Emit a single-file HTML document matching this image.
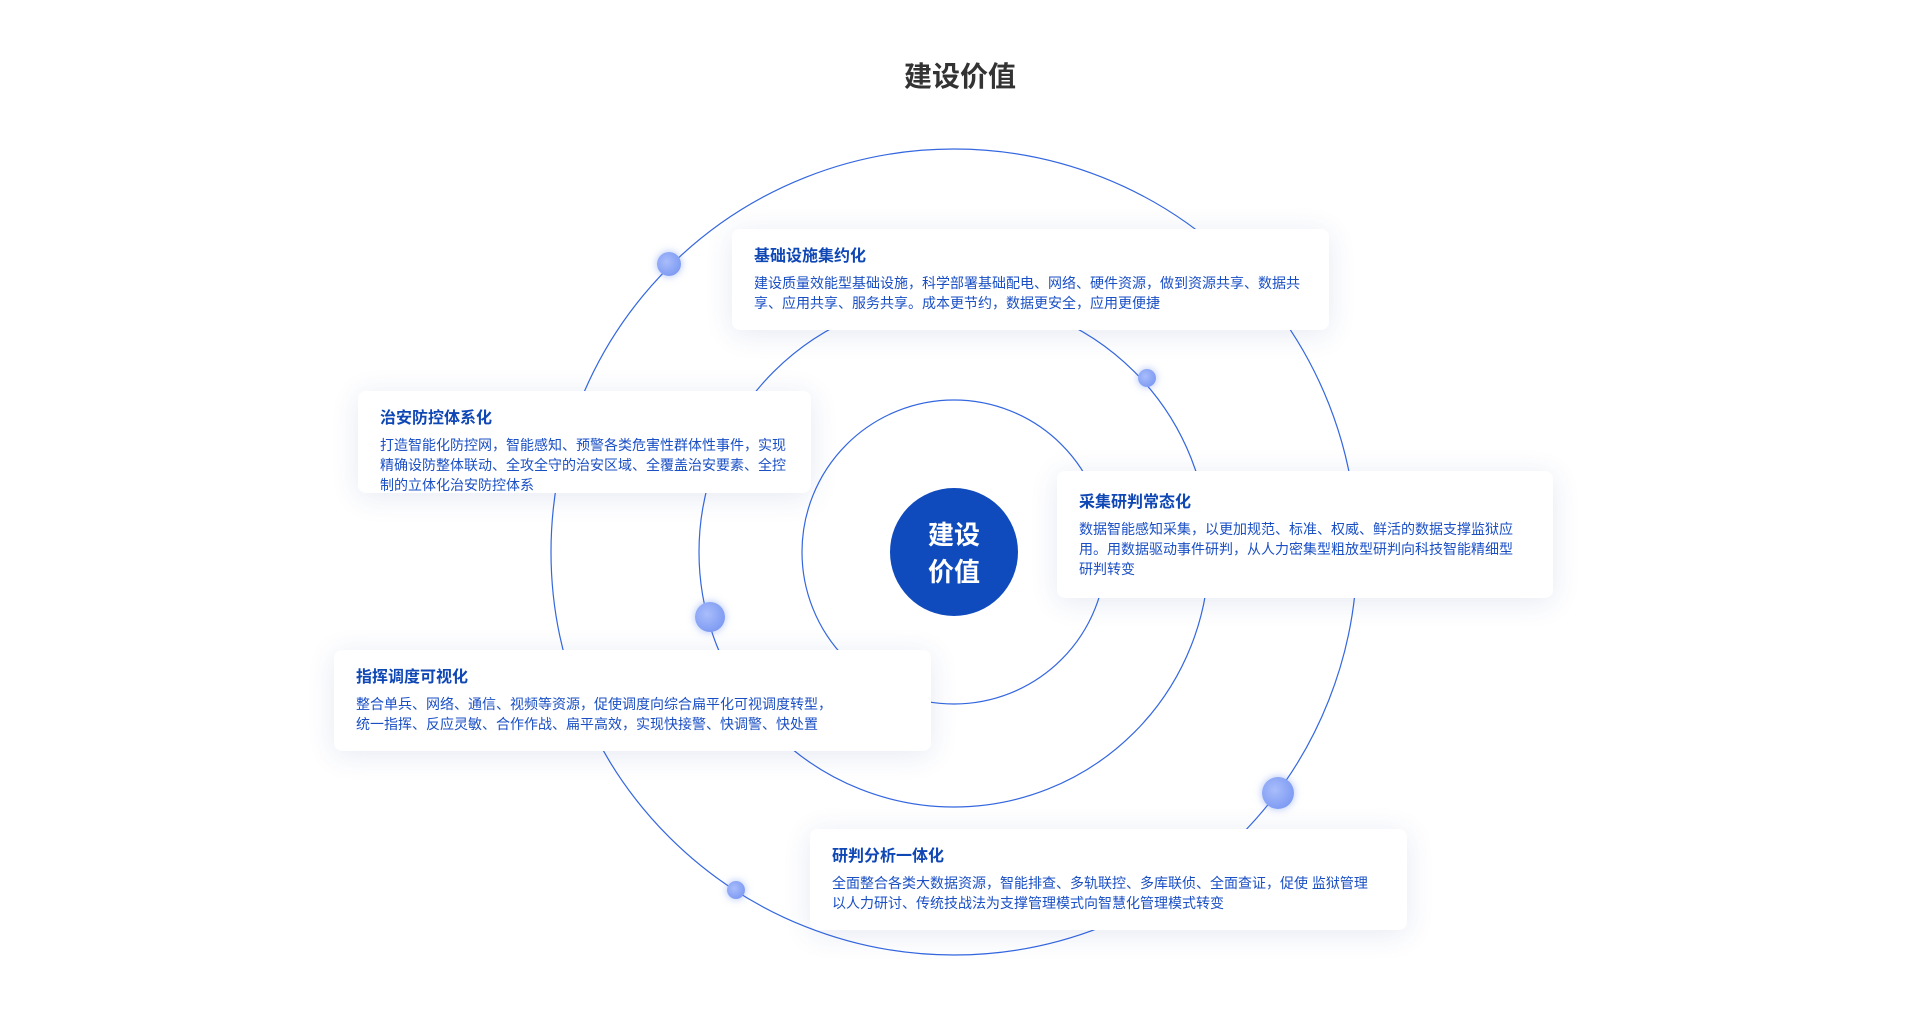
<!DOCTYPE html>
<html><head><meta charset="utf-8"><style>
body{margin:0;width:1920px;height:1014px;background:#fff;position:relative;overflow:hidden;font-family:"Liberation Sans","Noto Sans CJK SC",sans-serif;}
.t{position:absolute;left:0;width:1920px;top:55px;text-align:center;font-size:28px;font-weight:bold;color:#333;}
.box{position:absolute;background:#fff;border-radius:8px;box-shadow:0 4px 28px rgba(40,70,160,0.12);padding:17px 10px 0 22px;box-sizing:border-box;color:#1a4fc4;}
.box h3{margin:0 0 5px;font-size:16px;font-weight:bold;color:#0f47b5;line-height:22px;}
.box p{margin:0;font-size:14px;line-height:20px;}
.dot{position:absolute;border-radius:50%;background:radial-gradient(circle at 40% 40%,#a9bdfb,#6f8ff0);box-shadow:0 0 8px rgba(90,130,240,0.5);}
</style></head><body>
<div class="t">建设价值</div>
<svg width="1920" height="1014" style="position:absolute;left:0;top:0">
<g fill="none" stroke="#3467df" stroke-width="1.2">
<circle cx="954" cy="552" r="152"/>
<circle cx="954" cy="552" r="255"/>
<circle cx="954" cy="552" r="403"/>
</g>
<circle cx="954" cy="552" r="64" fill="#0f4bbd"/>
<text x="954" y="544" text-anchor="middle" fill="#fff" font-size="26" font-weight="bold" font-family="Liberation Sans,Noto Sans CJK SC,sans-serif">建设</text>
<text x="954" y="581" text-anchor="middle" fill="#fff" font-size="26" font-weight="bold" font-family="Liberation Sans,Noto Sans CJK SC,sans-serif">价值</text>
</svg>
<div class="dot" style="left:657px;top:252px;width:24px;height:24px"></div>
<div class="dot" style="left:1138px;top:369px;width:18px;height:18px"></div>
<div class="dot" style="left:695px;top:602px;width:30px;height:30px"></div>
<div class="dot" style="left:1262px;top:777px;width:32px;height:32px"></div>
<div class="dot" style="left:727px;top:881px;width:18px;height:18px"></div>
<div class="box" style="left:732px;top:229px;width:597px;height:101px"><h3>基础设施集约化</h3><p style="width:548px">建设质量效能型基础设施，科学部署基础配电、网络、硬件资源，做到资源共享、数据共享、应用共享、服务共享。成本更节约，数据更安全，应用更便捷</p></div>
<div class="box" style="left:358px;top:391px;width:453px;height:102px"><h3>治安防控体系化</h3><p style="width:408px">打造智能化防控网，智能感知、预警各类危害性群体性事件，实现精确设防整体联动、全攻全守的治安区域、全覆盖治安要素、全控制的立体化治安防控体系</p></div>
<div class="box" style="left:1057px;top:471px;width:496px;height:127px;padding-top:21px"><h3>采集研判常态化</h3><p style="width:437px">数据智能感知采集，以更加规范、标准、权威、鲜活的数据支撑监狱应用。用数据驱动事件研判，从人力密集型粗放型研判向科技智能精细型研判转变</p></div>
<div class="box" style="left:334px;top:650px;width:597px;height:101px"><h3>指挥调度可视化</h3><p style="width:540px">整合单兵、网络、通信、视频等资源，促使调度向综合扁平化可视调度转型，<br>统一指挥、反应灵敏、合作作战、扁平高效，实现快接警、快调警、快处置</p></div>
<div class="box" style="left:810px;top:829px;width:597px;height:101px"><h3>研判分析一体化</h3><p style="width:546px">全面整合各类大数据资源，智能排查、多轨联控、多库联侦、全面查证，促使 监狱管理以人力研讨、传统技战法为支撑管理模式向智慧化管理模式转变</p></div>
</body></html>
